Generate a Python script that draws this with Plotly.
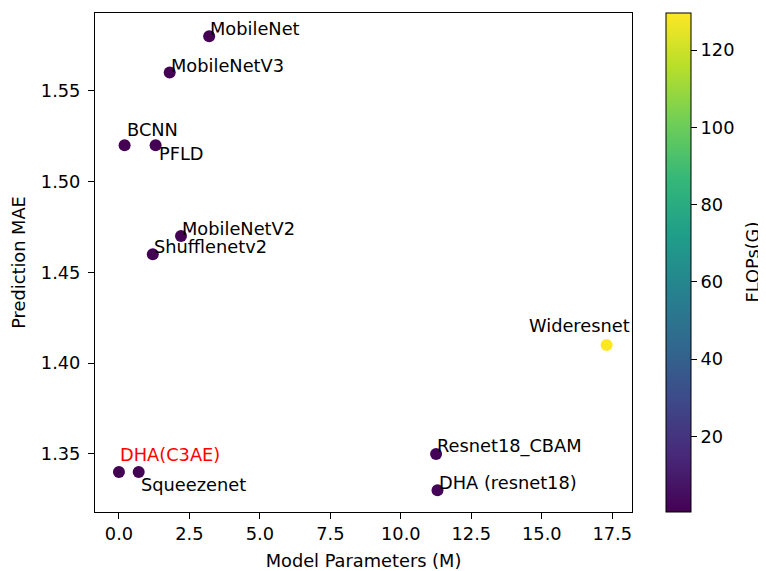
import plotly.graph_objects as go

models = ["MobileNet", "MobileNetV3", "BCNN", "PFLD", "MobileNetV2", "Shufflenetv2",
          "Wideresnet", "DHA(C3AE)", "Squeezenet", "Resnet18_CBAM", "DHA (resnet18)"]
params_m = [3.2, 1.8, 0.2, 1.3, 2.2, 1.2, 17.3, 0.0, 0.7, 11.25, 11.3]
mae = [1.58, 1.56, 1.52, 1.52, 1.47, 1.46, 1.41, 1.34, 1.34, 1.35, 1.33]
flops_g = [0.57, 0.45, 0.5, 0.9, 0.6, 0.6, 129.6, 0.4, 0.8, 1.8, 1.8]
label_colors = ["black"] * 7 + ["red"] + ["black"] * 3

# label placement (pixel shifts) relative to the point
xshifts = [-1, -1, 0, 1.5, -1, -1, -80, -1, 0.5, -1, -1]
yshifts = [-5, -5, 3, -21, -5, -5, 6.6, 5, -25, -5, -5]

FONT = "DejaVu Sans"
FS = 17.8

# the page adds an 8px body margin, so the figure is sized to fit inside it
W, H = 758, 563
ML, MR, MT, MB = 87, 134, 5, 59
PW = 766 - 8 - ML - MR  # plot width in px

fig = go.Figure()
fig.add_trace(go.Scatter(
    x=params_m, y=mae, mode="markers",
    marker=dict(size=12, color=flops_g, colorscale="Viridis",
                line=dict(width=0),
                colorbar=dict(
                    x=(666 - 95) / PW, xanchor="left", xref="paper", xpad=0,
                    y=0.5, yanchor="middle", len=1, lenmode="fraction", ypad=0,
                    thickness=25, outlinewidth=1, outlinecolor="black",
                    ticks="outside", ticklen=6, tickwidth=1, tickcolor="black",
                    tickvals=[20, 40, 60, 80, 100, 120],
                    tickfont=dict(family=FONT, size=FS, color="black"),
                )),
    showlegend=False,
))

annotations = []
for name, x, y, c, dx, dy in zip(models, params_m, mae, label_colors, xshifts, yshifts):
    annotations.append(dict(
        x=x, y=y, xref="x", yref="y", text=name, showarrow=False,
        xanchor="left", yanchor="bottom", xshift=dx, yshift=dy,
        font=dict(family=FONT, size=FS, color=c),
    ))
annotations.append(dict(
    x=(757 - 95) / PW, y=0.5, xref="paper", yref="paper", text="FLOPs(G)",
    showarrow=False, textangle=-90, xanchor="center", yanchor="middle",
    xshift=-5,
    font=dict(family=FONT, size=FS, color="black"),
))

fig.update_layout(
    width=W, height=H,
    margin=dict(l=ML, r=MR, t=MT, b=MB),
    paper_bgcolor="white", plot_bgcolor="white",
    font=dict(family=FONT, size=FS, color="black"),
    annotations=annotations,
    xaxis=dict(
        range=[-0.85, 18.2], tickvals=[0, 2.5, 5, 7.5, 10, 12.5, 15, 17.5],
        tickformat=".1f", showgrid=False, zeroline=False, automargin=False,
        showline=True, mirror=True, linecolor="black", linewidth=1,
        ticks="outside", ticklen=6, tickcolor="black", ticklabelstandoff=0,
        title=dict(text="Model Parameters (M)", standoff=12,
                   font=dict(family=FONT, size=FS)),
        tickfont=dict(family=FONT, size=FS),
    ),
    yaxis=dict(
        range=[1.318, 1.5928], tickvals=[1.35, 1.40, 1.45, 1.50, 1.55],
        tickformat=".2f", showgrid=False, zeroline=False, automargin=False,
        showline=True, mirror=True, linecolor="black", linewidth=1,
        ticks="outside", ticklen=6, tickcolor="black", ticklabelstandoff=4,
        title=dict(text="Prediction MAE", standoff=11,
                   font=dict(family=FONT, size=FS)),
        tickfont=dict(family=FONT, size=FS),
    ),
)

fig.write_html("out.html")
